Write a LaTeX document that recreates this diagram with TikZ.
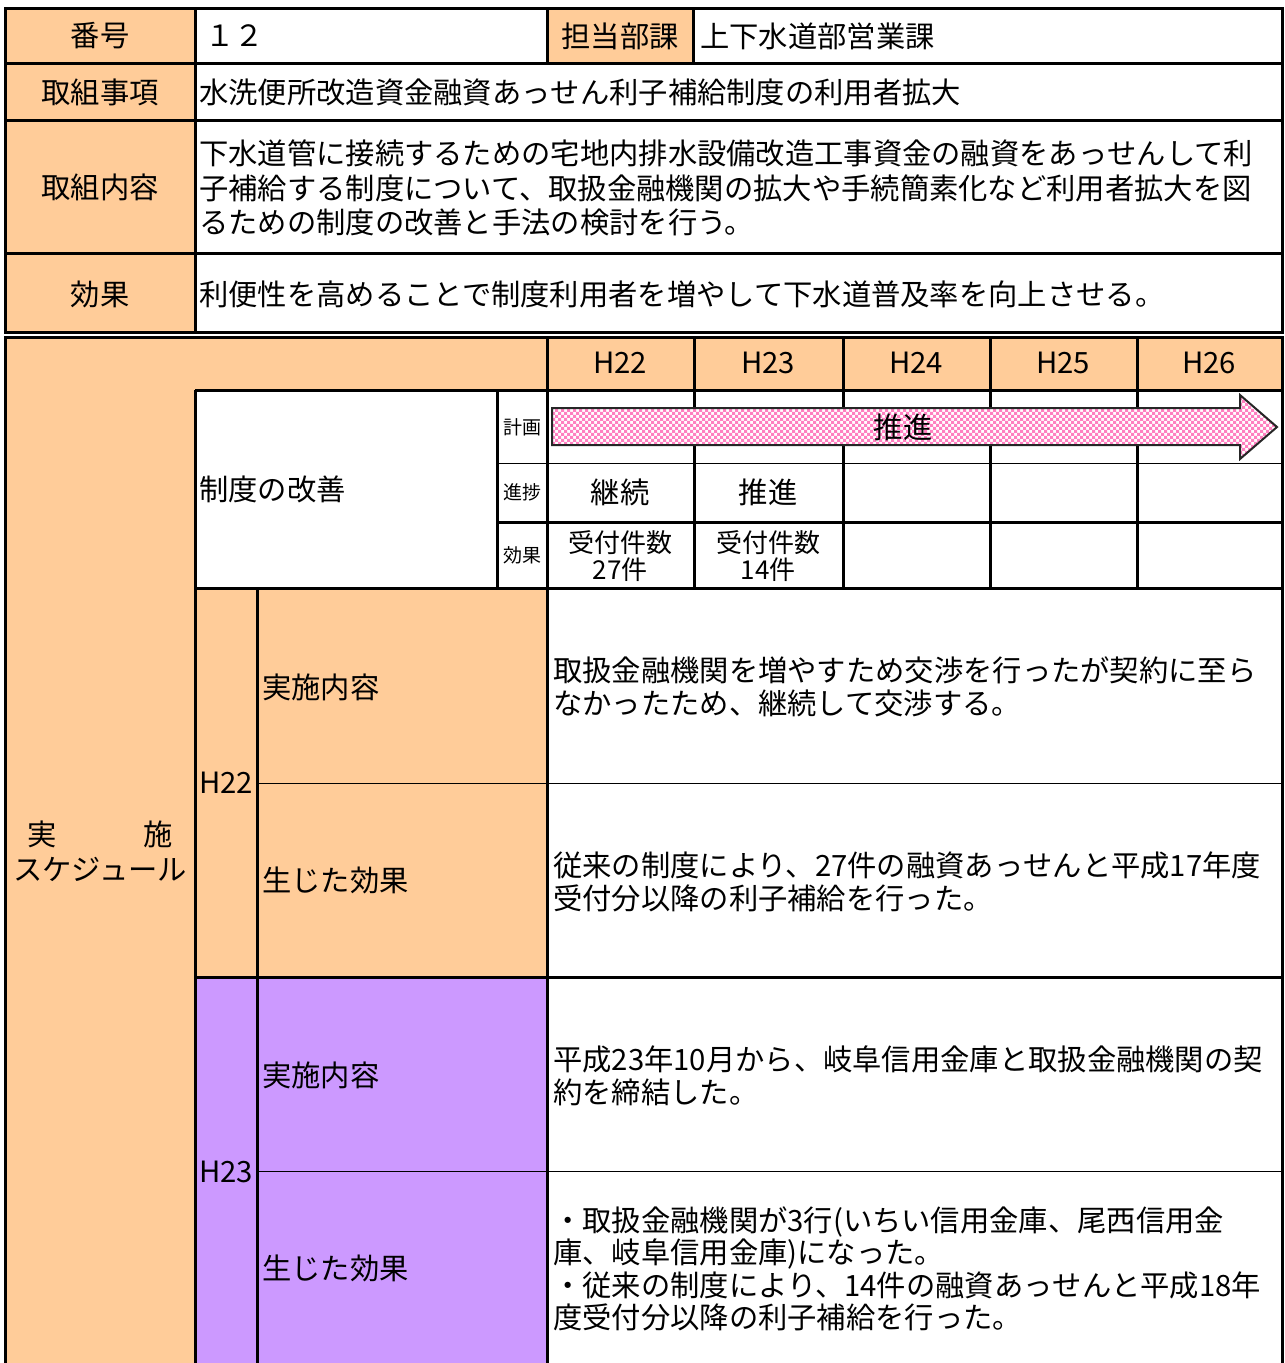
\documentclass[tikz,border=0pt]{standalone}
\usepackage{fontspec}
\setmainfont{Noto Sans CJK JP}
\usetikzlibrary{patterns}
\definecolor{hdorange}{HTML}{FFCC99}
\definecolor{hdpurple}{HTML}{CC99FF}
\definecolor{arrowpink}{HTML}{FF80C0}
\pgfdeclarepatternformonly{pinkcheck}{\pgfqpoint{-1pt}{-1pt}}{\pgfqpoint{7pt}{7pt}}{\pgfqpoint{6pt}{6pt}}{
  \pgfpathrectangle{\pgfqpoint{0pt}{0pt}}{\pgfqpoint{3pt}{3pt}}
  \pgfpathrectangle{\pgfqpoint{3pt}{3pt}}{\pgfqpoint{3pt}{3pt}}
  \pgfusepath{fill}}

\begin{document}
\begin{tikzpicture}[
    x=1pt, y=-1pt,
    font=\fontsize{29.3}{34.5}\selectfont
]
\tikzset{
    cello/.style = {fill=hdorange},
    cellp/.style = {fill=hdpurple},
    thk/.style = {line width=3pt},
    thn/.style = {line width=1pt},
    lbl/.style = {inner sep=0pt, align=center},
    txt/.style = {inner sep=0pt, anchor=west, align=left},
    body/.style = {txt, font=\fontsize{29.3}{32.5}\selectfont},
    tiny/.style = {lbl, font=\fontsize{19}{21}\selectfont},
    mid/.style = {lbl, font=\fontsize{26}{27}\selectfont},
    plan/.style = {draw=black!85, line width=2pt, preaction={fill=white}, pattern=pinkcheck, pattern color=arrowpink}
}
\useasboundingbox (0,0) rectangle (1285,1363);
% fills
\fill[cello] (5,8) rectangle (195,332);
\fill[cello] (547,8) rectangle (693,63);
\fill[cello] (5,337) rectangle (195,1363);
\fill[cello] (195,337) rectangle (1282,390);
\fill[cello] (195,588) rectangle (547,977);
\fill[cellp] (195,977) rectangle (547,1363);
% upper table
\draw[thk] (5,8) rectangle (1282,332);
\draw[thk] (5,63) -- (1282,63);
\draw[thk] (5,120) -- (1282,120);
\draw[thk] (5,253) -- (1282,253);
\draw[thk] (195,8) -- (195,332);
\draw[thk] (547,8) -- (547,63);
\draw[thk] (693,8) -- (693,63);
% lower table
\draw[thk] (5,1363) -- (5,337) -- (1282,337) -- (1282,1363);
\draw[thk] (195,390) -- (1282,390);
\draw[thk] (195,390) -- (195,1363);
\draw[thk] (497,390) -- (497,588);
\draw[thk] (547,337) -- (547,1363);
\draw[thk] (694,337) -- (694,588);
\draw[thk] (843,337) -- (843,588);
\draw[thk] (990,337) -- (990,588);
\draw[thk] (1137,337) -- (1137,588);
\draw[thn] (497,463) -- (1282,463);
\draw[thk] (497,522) -- (1282,522);
\draw[thk] (195,588) -- (1282,588);
\draw[thk] (257,588) -- (257,1363);
\draw[thn] (257,783) -- (1282,783);
\draw[thk] (195,977) -- (1282,977);
\draw[thn] (257,1171) -- (1282,1171);
% plan arrow
\draw[plan] (552,408) -- (1240,408) -- (1240,395) -- (1277,427) -- (1240,459) -- (1240,445) -- (552,445) -- cycle;
\node[lbl] at (903,427) (suishin) {推進};
% upper texts
\node[lbl] at (100,36) (bango) {番号};
\node[txt] at (205,36) (bangov) {１２};
\node[lbl] at (620,36) (tanto) {担当部課};
\node[txt] at (700,36) (tantov) {上下水道部営業課};
\node[lbl] at (100,92) (jiko) {取組事項};
\node[txt] at (199,92) (jikov) {水洗便所改造資金融資あっせん利子補給制度の利用者拡大};
\node[lbl] at (100,187) (naiyo) {取組内容};
\node[txt] at (199,188) (naiyov) {下水道管に接続するための宅地内排水設備改造工事資金の融資をあっせんして利\\子補給する制度について、取扱金融機関の拡大や手続簡素化など利用者拡大を図\\るための制度の改善と手法の検討を行う。};
\node[lbl] at (100,294) (koka) {効果};
\node[txt] at (199,294) (kokav) {利便性を高めることで制度利用者を増やして下水道普及率を向上させる。};
% schedule texts
\node[lbl] at (100,851) (jisshi) {実\hspace{87pt}施\\スケジュール};
\node[lbl] at (620,363) (y22) {H22};
\node[lbl] at (768,363) (y23) {H23};
\node[lbl] at (916,363) (y24) {H24};
\node[lbl] at (1063,363) (y25) {H25};
\node[lbl] at (1209,363) (y26) {H26};
\node[txt] at (199,489) (seido) {制度の改善};
\node[tiny] at (522,427) (keikaku) {計画};
\node[tiny] at (522,492) (shincho) {進捗};
\node[tiny] at (522,555) (kokal) {効果};
\node[lbl] at (620,492) (sh22) {継続};
\node[lbl] at (768,492) (sh23) {推進};
\node[mid] at (620,556) (ko22) {受付件数\\27件};
\node[mid] at (768,556) (ko23) {受付件数\\14件};
% H22
\node[lbl] at (226,783) (h22) {H22};
\node[txt] at (262,687) (jn22) {実施内容};
\node[txt] at (262,880) (sk22) {生じた効果};
\node[body] at (553,687) (jn22v) {取扱金融機関を増やすため交渉を行ったが契約に至ら\\なかったため、継続して交渉する。};
\node[body] at (553,882) (sk22v) {従来の制度により、27件の融資あっせんと平成17年度\\受付分以降の利子補給を行った。};
% H23
\node[lbl] at (226,1172) (h23) {H23};
\node[txt] at (262,1075) (jn23) {実施内容};
\node[txt] at (262,1268) (sk23) {生じた効果};
\node[body] at (553,1076) (jn23v) {平成23年10月から、岐阜信用金庫と取扱金融機関の契\\約を締結した。};
\node[body] at (553,1269) (sk23v) {・取扱金融機関が3行(いちい信用金庫、尾西信用金\\庫、岐阜信用金庫)になった。\\・従来の制度により、14件の融資あっせんと平成18年\\度受付分以降の利子補給を行った。};
\end{tikzpicture}
\end{document}
